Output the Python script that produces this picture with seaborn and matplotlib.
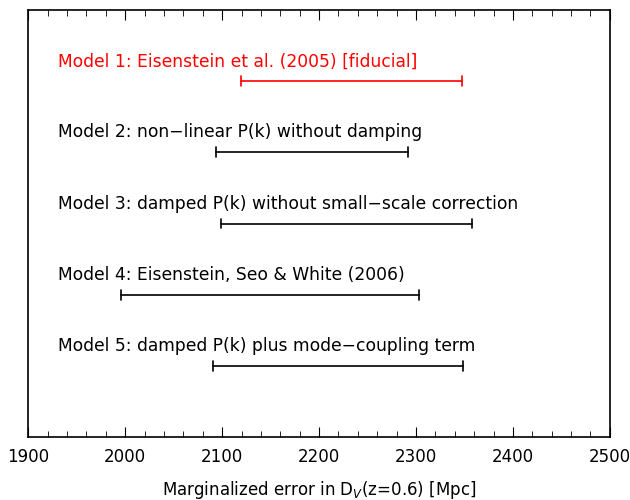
import matplotlib
matplotlib.use('Agg')
import matplotlib.pyplot as plt
import seaborn as sns
import pandas as pd
from matplotlib.ticker import MultipleLocator

labels = ['Model 1: Eisenstein et al. (2005) [fiducial]',
          'Model 2: non\u2212linear P(k) without damping',
          'Model 3: damped P(k) without small\u2212scale correction',
          'Model 4: Eisenstein, Seo & White (2006)',
          'Model 5: damped P(k) plus mode\u2212coupling term']
lo = [2119, 2094, 2099, 1996, 2091]
hi = [2347, 2292, 2358, 2303, 2349]
ypos = [5, 4, 3, 2, 1]
colors = ['red', 'black', 'black', 'black', 'black']

df = pd.DataFrame({'label': labels, 'lo': lo, 'hi': hi, 'y': ypos, 'c': colors})

sns.set_style('ticks')
plt.rcParams['font.family'] = ['DejaVu Sans']
plt.rcParams['text.color'] = 'black'
plt.rcParams['axes.labelcolor'] = 'black'
plt.rcParams['xtick.color'] = 'black'
fig, ax = plt.subplots(figsize=(6.3, 5.0), dpi=100)
fig.subplots_adjust(left=0.045, right=0.968, top=0.98, bottom=0.126)

for _, r in df.iterrows():
    sns.lineplot(x=[r.lo, r.hi], y=[r.y, r.y], color=r.c, lw=1.2, ax=ax)
    ax.plot([r.lo, r.lo], [r.y - 0.07, r.y + 0.07], color=r.c, lw=1.2)
    ax.plot([r.hi, r.hi], [r.y - 0.07, r.y + 0.07], color=r.c, lw=1.2)
    ax.text(1931, r.y + 0.28, r.label, color=r.c, fontsize=12.3, va='center', ha='left')

ax.set_xlim(1900, 2500)
ax.set_ylim(0, 6)
ax.set_yticks([])
ax.xaxis.set_major_locator(MultipleLocator(100))
ax.xaxis.set_minor_locator(MultipleLocator(20))
ax.tick_params(axis='x', which='major', direction='in', length=7, top=True, labelsize=12, pad=8)
ax.tick_params(axis='x', which='minor', direction='in', length=4, top=True)
for s in ax.spines.values():
    s.set_linewidth(1.2)
    s.set_color('black')
ax.set_xlabel('Marginalized error in D$_V$(z=0.6) [Mpc]', fontsize=12, labelpad=9)
fig.savefig('out.png')
